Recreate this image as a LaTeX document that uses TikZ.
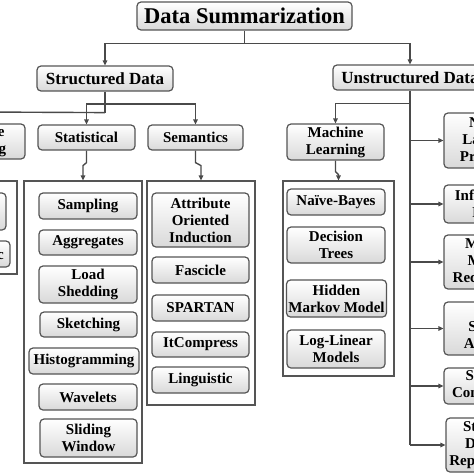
\documentclass[tikz,border=0pt]{standalone}
\usepackage{fontspec}
\setmainfont{Liberation Serif}
\usetikzlibrary{arrows.meta,positioning}
\definecolor{edgegray}{HTML}{555555}
\definecolor{shadegray}{HTML}{D9D9D9}
\definecolor{linkgray}{HTML}{4A4A4A}

\begin{document}
\begin{tikzpicture}[x=1pt,y=-1pt,
  box/.style={draw=edgegray,line width=1.2pt,rounded corners=4pt,top color=white,bottom color=shadegray,
    align=center,inner sep=0pt,font=\fontsize{15}{17}\selectfont\bfseries},
  lvl/.style={box,font=\fontsize{17}{20}\selectfont\bfseries},
  grp/.style={draw=edgegray,line width=1.1pt,fill=white,inner sep=0pt},
  link/.style={line width=1.4pt,draw=linkgray},
  arr/.style={link,-{Triangle[length=5pt,width=4.5pt]}}]
\useasboundingbox (0,0) rectangle (474,474);
\clip (0,0) rectangle (474,474);

% top levels
\node[box,minimum width=215,minimum height=28,font=\fontsize{22.5}{26}\selectfont\bfseries] (title) at (244.5,16) {Data Summarization};
\node[lvl,minimum width=136,minimum height=25] (sd) at (105,78.5) {Structured Data};
\node[lvl,minimum width=154,minimum height=25] (ud) at (410,77.5) {Unstructured Data};

% structured data branch
\node[box,minimum width=97,minimum height=35] (mlzero) at (-23.5,141.5) {Machine\\Learning};
\node[box,minimum width=97,minimum height=25] (stat) at (86.5,137.5) {Statistical};
\node[box,minimum width=95,minimum height=25] (sem) at (195.5,137.5) {Semantics};

\node[grp,minimum width=117,minimum height=93] (leftgrp) at (-41.5,227.5) {};
\node[box,minimum width=96,minimum height=37] (lone) at (-42,211.5) {Neural\\Networks};
\node[box,minimum width=94,minimum height=26] (ltwo) at (-37,254) {Probabilistic};

\node[grp,minimum width=118,minimum height=282] (statgrp) at (83,322) {};
\node[box,minimum width=98,minimum height=26] (samp) at (88,206) {Sampling};
\node[box,minimum width=98,minimum height=25] (aggr) at (88,242.5) {Aggregates};
\node[box,minimum width=98,minimum height=37] (load) at (88,284.5) {Load\\Shedding};
\node[box,minimum width=97,minimum height=25] (sketch) at (88.5,324.5) {Sketching};
\node[box,minimum width=110,minimum height=26] (hist) at (84,361) {Histogramming};
\node[box,minimum width=98,minimum height=26] (wave) at (88,397) {Wavelets};
\node[box,minimum width=97,minimum height=38] (slide) at (88.5,438) {Sliding\\Window};

\node[grp,minimum width=108,minimum height=224] (semgrp) at (201,293) {};
\node[box,minimum width=97,minimum height=54] (aoi) at (200.5,220) {Attribute\\Oriented\\Induction};
\node[box,minimum width=97,minimum height=26] (fasc) at (200.5,270) {Fascicle};
\node[box,minimum width=97,minimum height=26] (spartan) at (200.5,308) {SPARTAN};
\node[box,minimum width=97,minimum height=25] (itc) at (200.5,344.5) {ItCompress};
\node[box,minimum width=97,minimum height=26] (ling) at (200.5,380) {Linguistic};

% unstructured data branch
\node[box,minimum width=97,minimum height=36] (ml) at (335.5,142) {Machine\\Learning};
\node[grp,minimum width=111,minimum height=195] (mlgrp) at (338.5,278.5) {};
\node[box,minimum width=98,minimum height=26] (nb) at (336,202) {Naïve-Bayes};
\node[box,minimum width=98,minimum height=36] (dt) at (336,245) {Decision\\Trees};
\node[box,minimum width=100,minimum height=37] (hmm) at (336.5,298.5) {Hidden\\Markov Model};
\node[box,minimum width=98,minimum height=38] (llm) at (336,349) {Log-Linear\\Models};

\node[box,minimum width=100,minimum height=55] (nlp) at (494,140.5) {Natural\\Language\\Processing};
\node[box,minimum width=100,minimum height=38] (ir) at (494,204) {Information\\Fusion};
\node[box,minimum width=94,minimum height=54] (mmr) at (491,262) {Medical\\Mining\\Recognition};
\node[box,minimum width=94,minimum height=53] (spa) at (491,328.5) {Geo-\\Spatial\\Analysis};
\node[box,minimum width=100,minimum height=36] (sco) at (494,386) {Sentence\\Compression};
\node[box,minimum width=104,minimum height=54] (sdr) at (498,445) {Structured\\Document\\Representation};

% connectors
\draw[link] (title.south) -- ++(0,13) coordinate (tj);
\draw[arr] (tj) -| (sd);
\draw[arr] (tj) -| (ud);

\coordinate (offleft) at (-20,112);
\draw[link] (sd.south) -- ++(0,21) coordinate (sj);
\draw[link] (sj) -- (offleft);
\coordinate (sbar) at (105,104);
\draw[arr] (sbar) -| (stat);
\draw[arr] (sbar) -| (sem);
\draw[arr] (stat.south) -- ++(0,12) -- ++(-3.5,3) -- (statgrp.north);
\draw[arr] (sem.south) -- ++(0,12) -- ++(5.5,3) -- (semgrp.north);

\draw[link] (ud.south) -- ++(0,13) coordinate (ubar);
\coordinate (ubot) at (410,445);
\draw[link] (ud.south) -- (ubot);
\draw[arr] (ubar) -| (ml);
\draw[arr] (ml.south) -- ++(0,11) -- ++(3,3) -- (mlgrp.north);
\foreach \n in {nlp,ir,mmr,spa,sco,sdr}
  \draw[arr] (ud.south |- \n) -- (\n);
\end{tikzpicture}
\end{document}
